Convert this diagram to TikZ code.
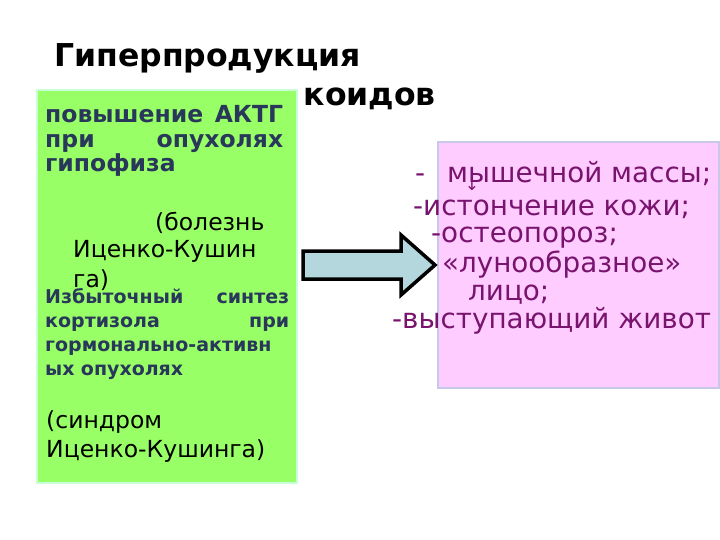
\documentclass[tikz,border=0pt]{standalone}
\usepackage{fontspec}
\setmainfont{DejaVu Sans}
\usetikzlibrary{positioning}

\definecolor{boxgreen}{RGB}{153,255,102}
\definecolor{edgegreen}{RGB}{200,255,215}
\definecolor{boxpink}{RGB}{255,204,255}
\definecolor{edgepink}{RGB}{200,200,235}
\definecolor{inkblue}{RGB}{40,55,90}
\definecolor{inkpurple}{RGB}{120,20,110}
\definecolor{arrowfill}{RGB}{180,215,222}

\begin{document}
\begin{tikzpicture}[x=1pt, y=-1pt,
    txt/.style={inner sep=0pt, anchor=base west},
    title/.style={txt, font=\bfseries\fontsize{31.5}{34}\selectfont},
    cause/.style={txt, text=inkblue, align=left},
    plain/.style={txt, font=\fontsize{23.5}{28}\selectfont},
    sign/.style={txt, text=inkpurple, font=\fontsize{27.8}{30}\selectfont},
    panel/.style={line width=1.5pt},
    blockarrow/.style={draw=black, line width=3.5pt, fill=arrowfill, line join=miter}
]
    \useasboundingbox (0,0) rectangle (720,540);

    % title
    \node[title] (t1) at (54,67) {Гиперпродукция};
    \node[title, anchor=base east] (t2) at (436,106) {коидов};

    % left panel
    \filldraw[panel, draw=edgegreen, fill=boxgreen] (37,90) rectangle (297,483);
    \node[cause, text width=238pt, font=\bfseries\fontsize{23.5}{24.5}\selectfont] (c1) at (45,123)
        {повышение\hfill АКТГ\\при\hfill опухолях\\гипофиза};
    \node[plain] (d1) at (155,230) {(болезнь};
    \node[plain] (d2) at (73,258) {Иценко-Кушин};
    \node[plain] (d3) at (73,287) {га)};
    \node[cause, text width=244pt, font=\bfseries\fontsize{19}{24}\selectfont] (c2) at (45,303)
        {Избыточный\hfill синтез\\кортизола\hfill при\\гормонально-активн\\ых опухолях};
    \node[plain] (d4) at (46,428) {(синдром};
    \node[plain] (d5) at (46,457) {Иценко-Кушинга)};

    % right panel
    \filldraw[panel, draw=edgepink, fill=boxpink] (438,142) rectangle (719,388);
    \node[sign] (s1) at (415,183) {-\hspace{22pt}мышечной массы;};
    \node[sign, font=\fontsize{17}{17}\selectfont, anchor=center] (s0) at (472,184) {↓};
    \node[sign] (s2) at (413,215) {-истончение кожи;};
    \node[sign] (s3) at (431,243) {-остеопороз;};
    \node[sign] (s4) at (423,272) {- «лунообразное»};
    \node[sign] (s5) at (468,300) {лицо;};
    \node[sign] (s6) at (392,328) {-выступающий живот};

    % arrow
    \draw[blockarrow] (303,251) -- (401,251) -- (401,235) -- (435,265)
        -- (401,295) -- (401,279) -- (303,279) -- cycle;
\end{tikzpicture}
\end{document}
